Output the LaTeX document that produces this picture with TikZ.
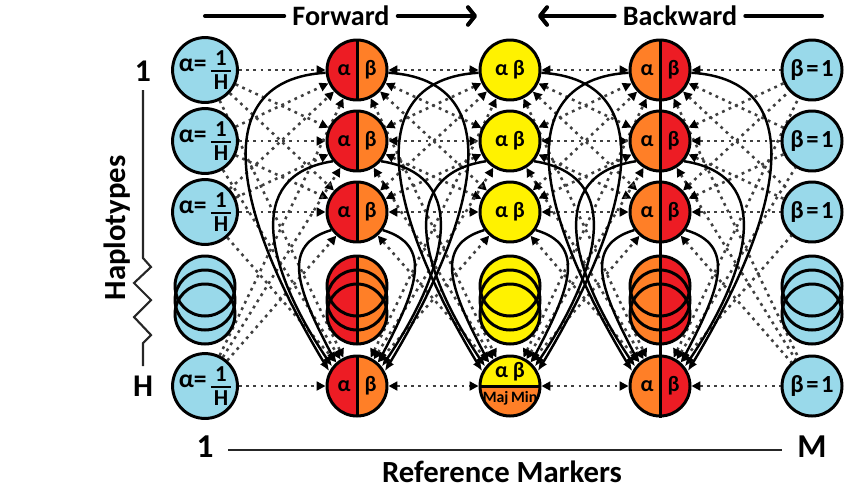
\documentclass[tikz,border=0pt]{standalone}
\usepackage{amsmath}
\usepackage{fontspec}
\setmainfont{Carlito}
\usetikzlibrary{arrows.meta,calc}
\pgfdeclarelayer{background}
\pgfsetlayers{background,main}
\definecolor{hblue}{HTML}{99D9EA}
\definecolor{hred}{HTML}{ED1C24}
\definecolor{horange}{HTML}{FF7F27}
\definecolor{hyellow}{HTML}{FFF200}
\newcommand{\afrac}{α=\,\raisebox{-10pt}{\fontsize{13}{14}\selectfont\bfseries\vbox{\hbox to 11.5pt{\hss 1\hss}\kern2.5pt\hrule height 1.5pt\kern1.2pt\hbox to 11.5pt{\hss H\hss}}}}
\tikzset{dtip/.tip={Triangle[length=5pt,width=5pt,color=black]}}
\begin{document}
\begin{tikzpicture}[x=0.02cm,y=-0.02cm,
  state/.style={circle, draw=black, line width=1.7pt, minimum size=1.2cm, inner sep=0pt,
    font=\bfseries\fontsize{12.5}{14}\selectfont},
  bluestate/.style={state, fill=hblue},
  lrstate/.style 2 args={state, path picture={
    \fill[#2] (path picture bounding box.north) rectangle (path picture bounding box.south east);
    \fill[#1] (path picture bounding box.north) rectangle (path picture bounding box.south west);
    \draw[line width=1.7pt] (path picture bounding box.north) -- (path picture bounding box.south);}},
  dotline/.style={draw=black!75, line width=1.45pt, dash pattern=on 1.6pt off 2.5pt},
  loopline/.style={line width=1.4pt, -{Latex[length=6pt,width=5pt]}},
  hdr/.style={font=\bfseries\fontsize{16}{18}\selectfont, inner sep=0pt},
  hdrline/.style={line width=2.3pt, line cap=round},
  big/.style={font=\bfseries\fontsize{18}{20}\selectfont, inner sep=0pt},
  axisline/.style={line width=1.2pt, draw=black!85},
]
\useasboundingbox (0,0) rectangle (864,491);

% ---- stacks of hidden haplotypes
\foreach \X/\lc/\rc in {205/hblue/hblue, 357/hred/horange, 510/hyellow/hyellow, 660/horange/hred, 812/hblue/hblue} {
  \begin{scope}
    \clip (\X-40,240) rectangle (\X,360);
    \foreach \yy in {286,300,314} \fill[\lc] (\X,\yy) circle[radius=0.6cm];
  \end{scope}
  \begin{scope}
    \clip (\X,240) rectangle (\X+40,360);
    \foreach \yy in {286,300,314} \fill[\rc] (\X,\yy) circle[radius=0.6cm];
  \end{scope}
  \foreach \yy in {286,300,314} \draw[line width=1.7pt] (\X,\yy) circle[radius=0.6cm];
}
\draw[line width=1.7pt] (357,256) -- (357,344);

% ---- state nodes
\foreach \r/\y in {1/70,2/141,3/212,4/386} {
  \node[bluestate, font=\bfseries\fontsize{14.5}{16}\selectfont] (n0\r) at (205,\y) {\afrac};
  \node[lrstate={hred}{horange}] (n1\r) at (357,\y) {α\hspace{8pt}β};
  \node[lrstate={horange}{hred}] (n3\r) at (660,\y) {α\hspace{8pt}β};
  \node[bluestate, font=\bfseries\fontsize{14}{15}\selectfont] (n4\r) at (812,\y) {β\hspace{1.5pt}=\hspace{1.5pt}1};
}
\foreach \r/\y in {1/70,2/141,3/212} {
  \node[state, fill=hyellow] (n2\r) at (510,\y) {α β};
}
\node[state, fill=hyellow, path picture={
    \fill[horange] (path picture bounding box.west) rectangle (path picture bounding box.south east);
    \draw[line width=1.7pt] (path picture bounding box.west) -- (path picture bounding box.east);}]
  (n24) at (510,386) {};
\node[font=\bfseries\fontsize{12.5}{14}\selectfont, inner sep=0pt] (t24a) at (510,372) {α β};
\node[font=\bfseries\fontsize{9}{10}\selectfont, inner sep=0pt] (t24b) at (510,398) {Maj\,Min};
\draw[line width=1.7pt] (n31.north) -- (n34.south);

% ---- connectors behind the nodes
\begin{pgfonlayer}{background}
\foreach \i in {1,2,3,4} {
  \foreach \j in {1,2,3,4} {
    \draw[dotline, -{dtip}] (n0\i) -- (n1\j);
    \draw[dotline, {dtip}-{dtip}] (n1\i) -- (n2\j);
    \draw[dotline, {dtip}-{dtip}] (n2\i) -- (n3\j);
    \draw[dotline, {dtip}-] (n3\i) -- (n4\j);
  }
}
\foreach \c in {1,2,3} {
  \draw[loopline] (n\c1.185) .. controls ($(n\c1)+(-150,10)$) and ($(n\c4)+(-125,-176)$) .. (n\c4.152);
  \draw[loopline] (n\c2.220) .. controls ($(n\c2)+(-115,34)$) and ($(n\c4)+(-90,-116)$) .. (n\c4.142);
  \draw[loopline] (n\c3.215) .. controls ($(n\c3)+(-75,33)$) and ($(n\c4)+(-62,-101)$) .. (n\c4.132);
  \draw[loopline] (n\c1.355) .. controls ($(n\c1)+(150,10)$) and ($(n\c4)+(125,-176)$) .. (n\c4.28);
  \draw[loopline] (n\c2.320) .. controls ($(n\c2)+(115,34)$) and ($(n\c4)+(90,-116)$) .. (n\c4.38);
  \draw[loopline] (n\c3.325) .. controls ($(n\c3)+(75,33)$) and ($(n\c4)+(62,-101)$) .. (n\c4.48);
}
\end{pgfonlayer}

% ---- header arrows
\node[hdr, inner xsep=4.5pt] (fwd) at (341,16) {Forward};
\node[hdr, inner xsep=4.5pt] (bwd) at (680,16) {Backward};
\coordinate (fa) at (205,16);
\coordinate (fb) at (477,16);
\coordinate (ba) at (538,16);
\coordinate (bb) at (822,16);
\draw[hdrline] (fa) -- (fwd.west);
\draw[hdrline, -{Straight Barb[length=4pt,width=10pt,round]}] (fwd.east) -- (fb);
\draw[hdrline, {Straight Barb[length=4pt,width=10pt,round]}-] (ba) -- (bwd.west);
\draw[hdrline] (bwd.east) -- (bb);

% ---- haplotype axis
\node[big] (r1) at (143,71) {1};
\node[big] (rH) at (143,386) {H};
\node[big, rotate=90, font=\bfseries\fontsize{17.5}{20}\selectfont] (hap) at (117,228) {Haplotypes};
\coordinate (va) at (143,90);
\coordinate (vb) at (143,366);
\draw[axisline, line join=miter] (va) -- (143,258) -- (151,267) -- (134,283) -- (151,300) -- (134,317) -- (151,335) -- (143,343) -- (vb);

% ---- marker axis
\node[big, font=\bfseries\fontsize{19}{21}\selectfont] (m1) at (205,447) {1};
\node[big, font=\bfseries\fontsize{19}{21}\selectfont] (mM) at (812,447) {M};
\coordinate (ha) at (228,450);
\coordinate (hb) at (782,450);
\draw[axisline] (ha) -- (hb);
\node[big, font=\bfseries\fontsize{17.5}{20}\selectfont] (rm) at (502,472) {Reference Markers};
\end{tikzpicture}
\end{document}
